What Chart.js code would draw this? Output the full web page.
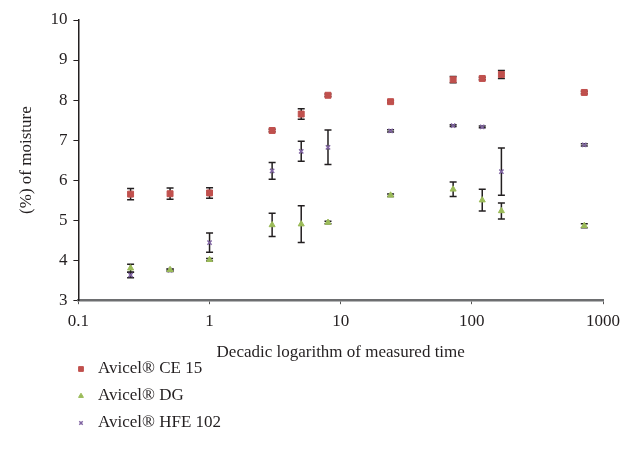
<!DOCTYPE html>
<html>
<head>
<meta charset="utf-8">
<script src="https://cdn.jsdelivr.net/npm/chart.js@4"></script>
<style>
  html, body { margin: 0; padding: 0; background: #fff; }
  #wrap { width: 625px; height: 459px; }
</style>
</head>
<body>
<div id="wrap"><canvas id="myChart"></canvas></div>
<script>
// measurement times (hours)
const times = [0.25, 0.5, 1, 3, 5, 8, 24, 72, 120, 168, 720];

const ce15 = [5.65, 5.66, 5.68, 7.24, 7.65, 8.12, 7.96, 8.51, 8.54, 8.64, 8.19];
const ce15Err = [0.14, 0.14, 0.13, 0.03, 0.13, 0.03, 0.03, 0.08, 0.03, 0.10, 0.03];

const dg = [3.80, 3.76, 4.01, 4.88, 4.90, 4.94, 5.62, 5.77, 5.50, 5.23, 4.86];
const dgErr = [0.10, 0.02, 0.03, 0.29, 0.46, 0.03, 0.03, 0.18, 0.27, 0.20, 0.05];

const hfe = [3.63, 3.75, 4.44, 6.23, 6.72, 6.82, 7.23, 7.36, 7.33, 6.21, 6.88];
const hfeErr = [0.07, 0.03, 0.24, 0.21, 0.25, 0.43, 0.03, 0.02, 0.02, 0.59, 0.03];

const xTicks = [0.1, 1, 10, 100, 1000];
const names = ['Avicel® CE 15', 'Avicel® DG', 'Avicel® HFE 102'];

const font = 'Liberation Serif';
const textColor = '#231f20';

function pts(vals) {
    return times.map((t, i) => ({ x: t, y: vals[i] }));
}

// error bars drawn through the scales
const errorBars = {
    id: 'errorBars',
    beforeDatasetsDraw(chart) {
        const ctx = chart.ctx;
        const xs = chart.scales.x, ys = chart.scales.y;
        const errs = [ce15Err, dgErr, hfeErr];
        ctx.save();
        ctx.strokeStyle = '#231f20';
        ctx.lineWidth = 1.5;
        chart.data.datasets.forEach((ds, d) => {
            ds.data.forEach((p, i) => {
                const e = errs[d][i];
                const px = xs.getPixelForValue(p.x);
                const top = ys.getPixelForValue(p.y + e);
                const bot = ys.getPixelForValue(p.y - e);
                ctx.beginPath();
                ctx.moveTo(px, top); ctx.lineTo(px, bot);
                ctx.moveTo(px - 3.5, top); ctx.lineTo(px + 3.5, top);
                ctx.moveTo(px - 3.5, bot); ctx.lineTo(px + 3.5, bot);
                ctx.stroke();
            });
        });
        ctx.restore();
    }
};

// vertical legend under the x axis title
const sideLegend = {
    id: 'sideLegend',
    afterDraw(chart) {
        const ctx = chart.ctx;
        ctx.save();
        ctx.font = '17px "' + font + '"';
        ctx.textBaseline = 'middle';
        chart.data.datasets.forEach((ds, i) => {
            const y = 369 + i * 27;
            ctx.fillStyle = ds.backgroundColor;
            ctx.strokeStyle = ds.borderColor;
            ctx.lineWidth = ds.borderWidth;
            Chart.helpers.drawPoint(ctx, {
                pointStyle: ds.pointStyle,
                radius: ds.pointRadius * 0.8,
                borderWidth: ds.borderWidth
            }, 81, y);
            ctx.fillStyle = textColor;
            ctx.fillText(ds.label, 98, y);
        });
        ctx.restore();
    }
};

function ds(label, vals, color, style, r) {
    return {
        label: label,
        data: pts(vals),
        showLine: false,
        pointStyle: style,
        pointRadius: r,
        backgroundColor: color,
        borderColor: color,
        borderWidth: style === 'crossRot' ? 1.5 : 1
    };
}

Chart.defaults.font.family = font;
Chart.defaults.color = textColor;

const chart = new Chart(document.getElementById('myChart'), {
    type: 'scatter',
    data: {
        datasets: [
            ds(names[0], ce15, '#c0504d', 'rect', 4.2),
            ds(names[1], dg, '#9bbb59', 'triangle', 3.5),
            ds(names[2], hfe, '#8064a2', 'crossRot', 3)
        ]
    },
    options: {
        responsive: true,
        maintainAspectRatio: false,
        animation: false,
        layout: {
            padding: { left: 12, right: 2, top: 20, bottom: 92 }
        },
        scales: {
            x: {
                type: 'logarithmic',
                min: 0.1,
                max: 1000,
                afterBuildTicks(scale) {
                    scale.ticks = xTicks.map(v => ({ value: v }));
                },
                afterFit(scale) {
                    scale.paddingRight = 22;
                },
                ticks: {
                    font: { size: 17 },
                    padding: 7,
                    maxRotation: 0,
                    callback: (v) => String(v)
                },
                grid: { drawOnChartArea: false, drawTicks: true, tickLength: 4, color: '#555' },
                border: { color: '#6d6e70', width: 2.5 },
                title: {
                    display: true,
                    text: 'Decadic logarithm of measured time',
                    font: { size: 17 },
                    padding: { top: 4 }
                }
            },
            y: {
                min: 3,
                max: 10,
                ticks: {
                    stepSize: 1,
                    font: { size: 17 },
                    padding: 6
                },
                grid: { drawOnChartArea: false, drawTicks: true, tickLength: 5, color: '#231f20' },
                border: { color: '#231f20', width: 1.5 },
                title: {
                    display: true,
                    text: '(%) of moisture',
                    font: { size: 17 },
                    padding: { bottom: 8 }
                }
            }
        },
        plugins: {
            legend: { display: false },
            tooltip: { enabled: false }
        }
    },
    plugins: [errorBars, sideLegend]
});
</script>
</body>
</html>
